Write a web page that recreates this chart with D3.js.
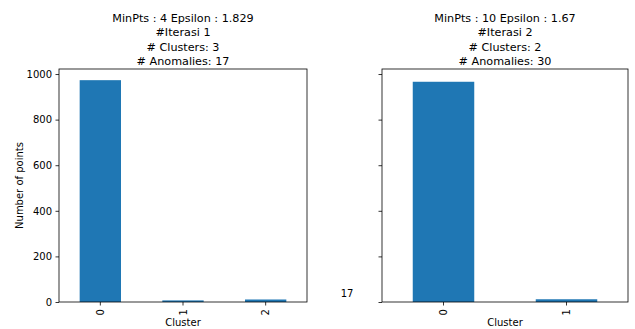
<!DOCTYPE html>
<html>
<head>
<meta charset="utf-8">
<script src="https://cdn.jsdelivr.net/npm/d3@7"></script>
<style>
  body { margin: 0; background: #fff; }
  text { font-family: "DejaVu Sans", sans-serif; fill: #000; }
</style>
</head>
<body>
<svg id="chart" width="635" height="329"></svg>
<script>
// chart data
var leftCategories = ["0", "1", "2"];
var leftValues = [973, 7, 11];
var leftTitle = ["MinPts : 4 Epsilon : 1.829", "#Iterasi 1", "# Clusters: 3", "# Anomalies: 17"];

var rightCategories = ["0", "1"];
var rightValues = [966, 12];
var rightTitle = ["MinPts : 10 Epsilon : 1.67", "#Iterasi 2", "# Clusters: 2", "# Anomalies: 30"];

var yTicks = [0, 200, 400, 600, 800, 1000];
var yMax = 1022;
var strayLabel = "17";

var svg = d3.select("#chart");
var plotTop = 69, plotBottom = 302;

var yScale = d3.scaleLinear().domain([0, yMax]).range([plotBottom, plotTop]);

function drawPanel(left, right, cats, vals, title, showLabels) {
    var g = svg.append("g");

    var xScale = d3.scaleBand()
        .domain(cats)
        .range([left, right])
        .paddingInner(0.5)
        .paddingOuter(0.25);

    // bars
    g.selectAll("rect.bar")
        .data(vals)
        .enter()
        .append("rect")
        .attr("class", "bar")
        .attr("x", function(d, i) { return xScale(cats[i]); })
        .attr("width", xScale.bandwidth())
        .attr("y", function(d) { return yScale(d); })
        .attr("height", function(d) { return plotBottom - yScale(d); })
        .style("fill", "#1f77b4");

    // y axis
    var yAxis = d3.axisLeft(yScale)
        .tickValues(yTicks)
        .tickSize(3.5)
        .tickPadding(3.5)
        .tickFormat(showLabels ? d3.format("d") : "");
    var ya = g.append("g")
        .attr("transform", "translate(" + left + ",0)")
        .call(yAxis);
    ya.select(".domain").remove();
    ya.selectAll("line").attr("stroke", "#000").attr("stroke-width", 0.8);
    ya.selectAll("text").style("font-size", "10px").style("font-family", "DejaVu Sans");

    // x axis
    var xAxis = d3.axisBottom(xScale).tickSize(3.5).tickPadding(3.5);
    var xa = g.append("g")
        .attr("transform", "translate(0," + plotBottom + ")")
        .call(xAxis);
    xa.select(".domain").remove();
    xa.selectAll("line").attr("stroke", "#000").attr("stroke-width", 0.8);
    xa.selectAll("text")
        .style("font-size", "10px")
        .style("font-family", "DejaVu Sans")
        .attr("text-anchor", "end")
        .attr("dy", "0.35em")
        .attr("y", 0)
        .attr("transform", "translate(0,7) rotate(-90)");

    // frame
    g.append("rect")
        .attr("x", left)
        .attr("y", plotTop)
        .attr("width", right - left)
        .attr("height", plotBottom - plotTop)
        .style("fill", "none")
        .style("stroke", "#000")
        .style("stroke-width", 0.8);

    // x label
    g.append("text")
        .attr("x", (left + right) / 2)
        .attr("y", 326)
        .attr("text-anchor", "middle")
        .style("font-size", "10px")
        .text("Cluster");

    // title
    g.append("text")
        .attr("x", (left + right) / 2)
        .attr("text-anchor", "middle")
        .style("font-size", "11.2px")
        .selectAll("tspan")
        .data(title)
        .enter()
        .append("tspan")
        .attr("x", (left + right) / 2)
        .attr("y", function(d, i) { return 21.5 + i * 14.6; })
        .text(function(d) { return d; });
}

drawPanel(59, 307, leftCategories, leftValues, leftTitle, true);
drawPanel(382, 628, rightCategories, rightValues, rightTitle, false);

// y label
svg.append("text")
    .attr("transform", "translate(23," + ((plotTop + plotBottom) / 2) + ") rotate(-90)")
    .attr("text-anchor", "middle")
    .style("font-size", "10px")
    .text("Number of points");

svg.append("text")
    .attr("x", 347)
    .attr("y", 297)
    .attr("text-anchor", "middle")
    .style("font-size", "10px")
    .text(strayLabel);
</script>
</body>
</html>
